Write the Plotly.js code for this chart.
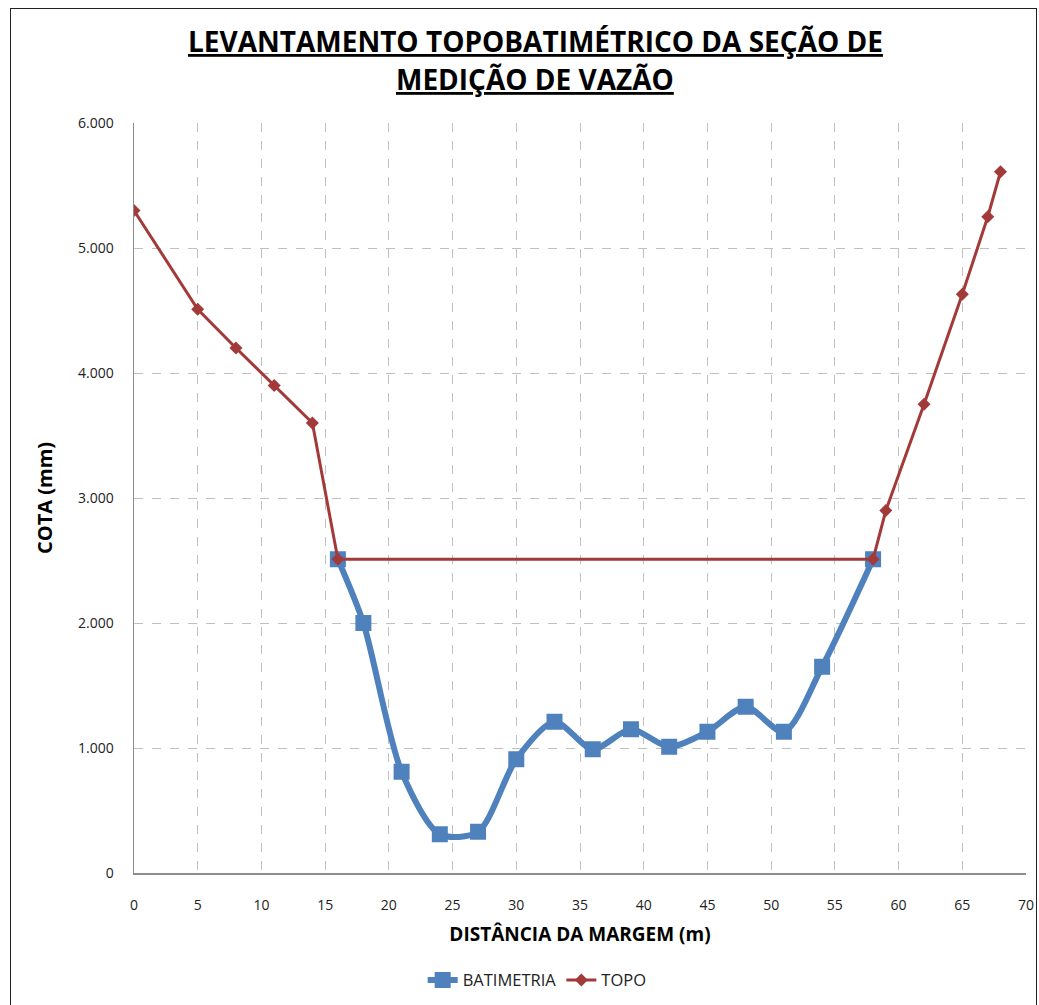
<!DOCTYPE html>
<html>
<head>
<meta charset="utf-8">
<script src="https://cdn.plot.ly/plotly-3.0.1.min.js"></script>
<style>
html,body{margin:0;padding:0;background:#fff;}
#frame{position:absolute;left:10px;top:8px;width:1027px;height:1100px;border:1.5px solid #222;box-sizing:border-box;}
#chart{position:absolute;left:0;top:0;width:1039px;height:1005px;}
</style>
</head>
<body>
<div id="frame"></div>
<div id="chart"></div>
<script>
const batX = [16, 18, 21, 24, 27, 30, 33, 36, 39, 42, 45, 48, 51, 54, 58];
const batY = [2510, 2000, 810, 310, 330, 910, 1210, 990, 1150, 1010, 1130, 1330, 1130, 1650, 2510];
const topoX = [0, 5, 8, 11, 14, 16, 58, 59, 62, 65, 67, 68];
const topoY = [5300, 4510, 4200, 3900, 3600, 2510, 2510, 2900, 3750, 4630, 5250, 5610];
const xTicks = [0, 5, 10, 15, 20, 25, 30, 35, 40, 45, 50, 55, 60, 65, 70];
const yTicks = [0, 1000, 2000, 3000, 4000, 5000, 6000];
const titleLines = ['LEVANTAMENTO TOPOBATIMÉTRICO DA SEÇÃO DE', 'MEDIÇÃO DE VAZÃO'];

const mainFont = "Open Sans, sans-serif";
const tickFont = "Open Sans, sans-serif";

const traces = [
  {
    x: batX, y: batY, name: 'BATIMETRIA', type: 'scatter', mode: 'lines+markers',
    line: {color: '#4F81BD', width: 6, shape: 'spline', smoothing: 0.8},
    marker: {symbol: 'square', size: 16, color: '#4F81BD'}
  },
  {
    x: topoX, y: topoY, name: 'TOPO', type: 'scatter', mode: 'lines+markers',
    line: {color: '#A33A3A', width: 3},
    marker: {symbol: 'diamond', size: 10, color: '#A33A3A'}
  }
];

// plot area: top 123px, bottom 873px (750px tall)
const pyToPaper = py => (873 - py) / 750;

const layout = {
  width: 1039, height: 1005,
  margin: {l: 134, r: 13, t: 123, b: 132, autoexpand: false},
  paper_bgcolor: 'rgba(0,0,0,0)', plot_bgcolor: 'rgba(0,0,0,0)',
  separators: ',.',
  showlegend: true,
  annotations: titleLines.map((t, i) => ({
    text: '<span style="text-decoration:underline">' + t + '</span>',
    xref: 'paper', yref: 'paper', x: 0.4496, y: pyToPaper(i === 0 ? 41 : 79),
    xanchor: 'center', yanchor: 'middle', showarrow: false,
    font: {family: mainFont, size: 28, color: '#000', weight: 'bold'}
  })),
  xaxis: {
    range: [0, 70], tickvals: xTicks, ticktext: xTicks.map(String),
    showgrid: true, gridcolor: '#c0c0c0', griddash: 'dash', gridwidth: 1,
    showline: true, linecolor: '#8c8c8c', linewidth: 1.5,
    zeroline: false, automargin: false,
    ticks: 'outside', ticklen: 19, tickcolor: 'rgba(0,0,0,0)',
    tickfont: {family: tickFont, size: 14, color: '#222'},
    title: {text: 'DISTÂNCIA DA MARGEM (m)', font: {family: mainFont, size: 19, color: '#000', weight: 'bold'}, standoff: 14}
  },
  yaxis: {
    range: [0, 6000], tickvals: yTicks, ticktext: yTicks.map(v => v === 0 ? '0' : (v/1000) + '.000'),
    showgrid: true, gridcolor: '#c0c0c0', griddash: 'dash', gridwidth: 1,
    showline: true, linecolor: '#8c8c8c', linewidth: 1.5,
    zeroline: false, automargin: false,
    ticks: 'outside', ticklen: 16, tickcolor: 'rgba(0,0,0,0)',
    tickfont: {family: tickFont, size: 14, color: '#222'},
    title: {text: 'COTA (mm)', font: {family: mainFont, size: 20, color: '#000', weight: 'bold'}, standoff: 20}
  },
  legend: {
    orientation: 'h', x: 0.452, xanchor: 'center', y: -0.143, yanchor: 'middle',
    font: {family: mainFont, size: 16.5, color: '#222'},
    itemwidth: 30, tracegroupgap: 0
  }
};

Plotly.newPlot('chart', traces, layout, {displayModeBar: false, staticPlot: true});
</script>
</body>
</html>
